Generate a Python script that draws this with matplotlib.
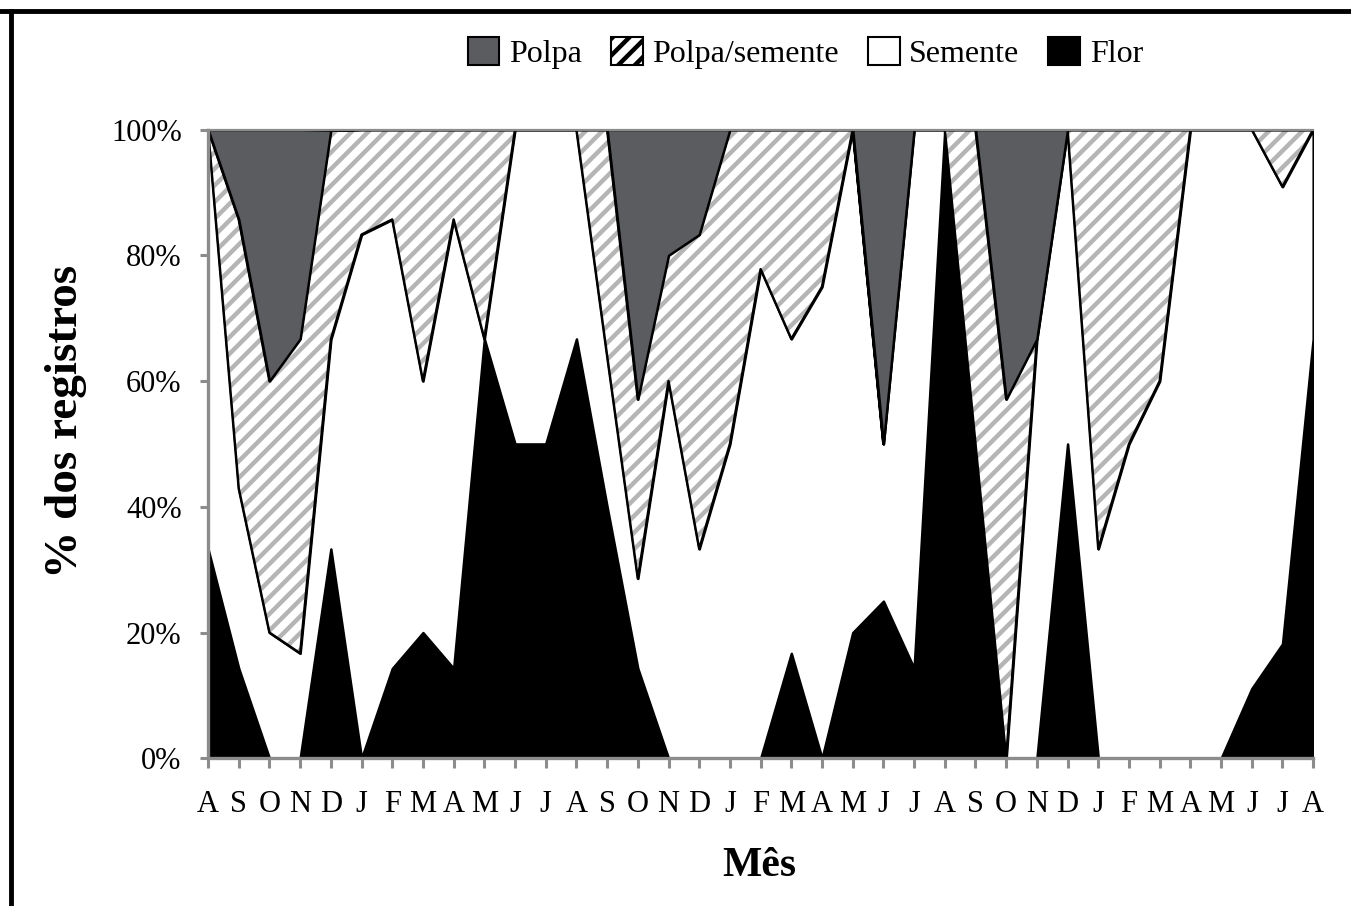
import matplotlib

matplotlib.use("Agg")

import matplotlib.pyplot as plt
import numpy as np
from matplotlib.lines import Line2D
from matplotlib.patches import Patch

# ---------- Data (percent of records per month) ----------

MONTHS = ["A", "S", "O", "N", "D", "J", "F", "M", "A", "M", "J", "J",
          "A", "S", "O", "N", "D", "J", "F", "M", "A", "M", "J", "J",
          "A", "S", "O", "N", "D", "J", "F", "M", "A", "M", "J", "J", "A"]

flor = [33.3, 14.3, 0, 0, 33.3, 0, 14.3, 20, 14.3, 66.7, 50, 50,
        66.7, 40, 14.3, 0, 0, 0, 0, 16.7, 0, 20, 25, 14.3,
        100, 50, 0, 0, 50, 0, 0, 0, 0, 0, 11.1, 18.2, 66.7]
semente = [66.7, 28.6, 20, 16.7, 33.3, 83.3, 71.4, 40, 71.4, 0, 50, 50,
           33.3, 24, 14.3, 60, 33.3, 50, 77.8, 50, 75, 80, 25, 85.7,
           0, 0, 0, 66.7, 50, 33.3, 50, 60, 100, 100, 88.9, 72.7, 33.3]
polpa_semente = [0, 42.8, 40, 50, 33.3, 16.7, 14.3, 40, 14.3, 33.3, 0, 0,
                 0, 36, 28.5, 20, 50, 50, 22.2, 33.3, 25, 0, 0, 0,
                 0, 50, 57.1, 0, 0, 66.7, 50, 40, 0, 0, 0, 9.1, 0]
polpa = [0, 14.3, 40, 33.3, 0, 0, 0, 0, 0, 0, 0, 0,
         0, 0, 42.9, 20, 16.7, 0, 0, 0, 0, 0, 50, 0,
         0, 0, 42.9, 33.3, 0, 0, 0, 0, 0, 0, 0, 0, 0]

POLPA_COLOR = "#5b5c60"
HATCH_COLOR = "#b5b5b5"
SPINE_COLOR = "#8c8c8c"

plt.rcParams["font.family"] = ["Liberation Serif", "DejaVu Serif"]
plt.rcParams["hatch.linewidth"] = 3.2

# ---------- Stack ----------

x = np.arange(len(MONTHS))
top_flor = np.array(flor)
top_sem = top_flor + np.array(semente)
top_ps = top_sem + np.array(polpa_semente)
top_polpa = top_ps + np.array(polpa)

fig = plt.figure(figsize=(13.51, 9.06), dpi=100)
ax = fig.add_axes([0.154, 0.163, 0.818, 0.694])

ax.fill_between(x, 0, top_flor, facecolor="black", edgecolor="black", linewidth=1.8)
ax.fill_between(x, top_flor, top_sem, facecolor="white", edgecolor="black", linewidth=1.8)
ax.fill_between(x, top_sem, top_ps, facecolor="white", edgecolor=HATCH_COLOR,
                hatch="//", linewidth=0)
ax.fill_between(x, top_sem, top_ps, facecolor="none", edgecolor="black", linewidth=1.8)
ax.fill_between(x, top_ps, top_polpa, facecolor=POLPA_COLOR, edgecolor="black", linewidth=1.8)

ax.set_xlim(0, len(MONTHS) - 1)
ax.set_ylim(0, 100)
ax.set_xticks(x)
ax.set_xticklabels(MONTHS)
ax.set_yticks(np.arange(0, 101, 20))
ax.set_yticklabels([f"{v}%" for v in range(0, 101, 20)])

for side in ("left", "bottom"):
    ax.spines[side].set_color(SPINE_COLOR)
    ax.spines[side].set_linewidth(2.4)
ax.spines["top"].set_color(SPINE_COLOR)
ax.spines["top"].set_linewidth(1.6)
ax.spines["right"].set_visible(False)
ax.tick_params(axis="x", length=7, width=2.2, color=SPINE_COLOR, pad=16, labelsize=22)
ax.tick_params(axis="y", length=6, width=2.2, color=SPINE_COLOR, pad=13, labelsize=22)

fig.text(66 / 1351, 1 - 421 / 906, "% dos registros", rotation=90,
         ha="center", va="center", fontsize=34, fontweight="bold")
fig.text(759 / 1351, 1 - 866 / 906, "Mês", ha="center", va="center",
         fontsize=30, fontweight="bold")

handles = [
    Patch(facecolor=POLPA_COLOR, edgecolor="black", linewidth=1.5),
    Patch(facecolor="white", edgecolor="black", hatch="//", linewidth=1.5),
    Patch(facecolor="white", edgecolor="black", linewidth=1.5),
    Patch(facecolor="black", edgecolor="black", linewidth=1.5),
]
fig.legend(handles, ["Polpa", "Polpa/semente", "Semente", "Flor"],
           loc="center", bbox_to_anchor=(0.596, 1 - 53 / 906), ncol=4,
           frameon=False, fontsize=23, handlelength=1.0, handleheight=1.0,
           handletextpad=0.3, columnspacing=0.9)

# outer frame (top and left edges only)
fig.add_artist(Line2D([0, 1], [1 - 11 / 906, 1 - 11 / 906], color="black", linewidth=3.5))
fig.add_artist(Line2D([11 / 1351, 11 / 1351], [0, 1 - 11 / 906], color="black", linewidth=3.5))

fig.savefig("out.png", dpi=100)
